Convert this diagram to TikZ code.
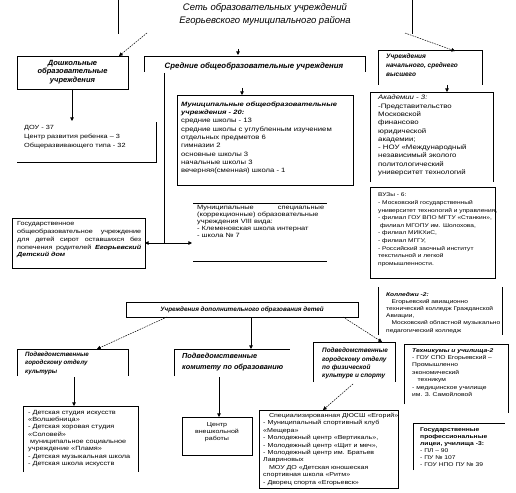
\documentclass[tikz,border=0pt]{standalone}
\usepackage{fontspec}
\setmainfont{Liberation Sans}
\newfontfamily\wide{Liberation Sans}[FakeStretch=1.22]
\usetikzlibrary{arrows.meta}
\begin{document}
\begin{tikzpicture}[x=1pt,y=-1pt,
  box/.style={line width=0.8pt},
  arr/.style={line width=0.8pt,-{Triangle[length=3.6pt,width=3.6pt]}},
  darr/.style={line width=0.5pt,dash pattern=on 1.6pt off 1pt,-{Triangle[length=3.6pt,width=3.6pt]}},
  body/.style={anchor=north west,inner sep=0pt,align=left,font=\wide\fontsize{6}{7.5}\selectfont},
  head/.style={anchor=north west,inner sep=0pt,align=left,font=\fontsize{7}{8.5}\selectfont\bfseries\itshape},
]
\useasboundingbox (0,0) rectangle (516,492);

% title
\node[inner sep=0pt,align=center,font=\fontsize{9.5}{13}\selectfont\itshape] (title) at (265,14.5)
  {Сеть образовательных учреждений\\Егорьевского муниципального района};
\coordinate (tL0) at (118,0); \coordinate (tL1) at (118,34);
\coordinate (tR0) at (412,0); \coordinate (tR1) at (412,34);
\draw[box] (tL0) -- (tL1); \draw[box] (tR0) -- (tR1);
\coordinate (d1s) at (147,33); \coordinate (d1e) at (119,56);
\coordinate (d2s) at (405,33); \coordinate (d2e) at (455,51);
\draw[darr] (d1s) -- (d1e);
\draw[darr] (d2s) -- (d2e);
\coordinate (s1s) at (238,49); \coordinate (s1e) at (238,55);
\draw[arr] (s1s) -- (s1e);

% preschool
\draw[box] (17,56) rectangle (128,89);
\node[head,anchor=center,align=center,font=\fontsize{7.5}{8.5}\selectfont\bfseries\itshape] (dosh) at (72.5,72)
  {Дошкольные\\образовательные\\учреждения};
\coordinate (a1s) at (72,89); \coordinate (a1e) at (72,121);
\draw[arr] (a1s) -- (a1e);
\draw[box] (17,162) -- (156,162) -- (156,122);
\node[body,font=\wide\fontsize{6}{9}\selectfont] (dou) at (24,125)
  {ДОУ - 37\\Центр развития ребенка – 3\\Общеразвивающего типа - 32};

% secondary
\draw[box] (144,72) -- (144,56) -- (365,56) -- (365,72);
\node[head,anchor=center,font=\fontsize{7.8}{9}\selectfont\bfseries\itshape] (sred) at (254,66)
  {Средние общеобразовательные учреждения};
\coordinate (v0) at (164,73); \coordinate (v1) at (164,243);
\coordinate (hL) at (145,243); \coordinate (hR) at (192,243);
\draw[box] (v0) -- (v1);
\draw[arr] (v1) -- (hL);
\draw[arr] (v1) -- (hR);
\coordinate (s2s) at (242,88); \coordinate (s2e) at (242,95);
\draw[arr] (s2s) -- (s2e);
\draw[box] (177,95) rectangle (353,185);
\node[body,font=\wide\fontsize{6.3}{8.3}\selectfont] (mun) at (181,101.5)
  {{\fontsize{6.2}{8.3}\selectfont\bfseries\itshape Муниципальные общеобразовательные}\\
   {\fontsize{6.2}{8.3}\selectfont\bfseries\itshape учреждения - 20:}\\
   средние школы - 13\\
   средние школы с углубленным изучением\\
   отдельных предметов 6\\
   гимназии 2\\
   основные школы 3\\
   начальные школы 3\\
   вечерняя(сменная) школа - 1};

% higher
\draw[box] (378,85) -- (378,50) -- (482,50) -- (482,85);
\node[head,font=\fontsize{6.5}{9}\selectfont\bfseries\itshape] (nach) at (386,54)
  {Учреждения\\начального, среднего\\высшего};
\coordinate (s3s) at (447,85); \coordinate (s3e) at (447,92);
\draw[arr] (s3s) -- (s3e);
\draw[box] (370,182) -- (370,92) -- (493,92) -- (493,182);
\node[body,font=\wide\fontsize{6.4}{8.3}\selectfont] (akad) at (378,95)
  {\textit{Академии - 3:}\\-Представительство\\Московской\\финансово\\юридической\\академии;\\- НОУ «Международный\\независимый эколого\\политологический\\университет технологий};
\draw[box] (370,187) rectangle (495,278);
\node[body,font=\wide\fontsize{5.4}{7.6}\selectfont] (vuz) at (378,193)
  {ВУЗы - 6:\\- Московский государственный\\университет технологий и управления,\\- филиал ГОУ ВПО МГТУ «Станкин»,\\\ филиал МГОПУ им. Шолохова,\\- филиал МИКХиС,\\- филиал МГГУ,\\- Российский заочный институт\\текстильной и легкой\\промышленности.};

% orphanage
\draw[box] (12,218) rectangle (145,268);
\node[body,font=\wide\fontsize{5.9}{7.8}\selectfont] (gos) at (17,221.5)
  {Государственное\\
   \makebox[124pt][s]{общеобразовательное учреждение}\\
   \makebox[124pt][s]{для детей сирот оставшихся без}\\
   \makebox[124pt][s]{попечения родителей \textbf{\textit{Егорьевский}}}\\
   \textbf{\textit{Детский дом}}};

% special
\draw[box] (193,203) -- (327,203);
\draw[box] (193,261) -- (327,261);
\node[body,font=\wide\fontsize{6.1}{7}\selectfont] (spec) at (197,205.5)
  {\makebox[127pt][s]{Муниципальные специальные}\\(коррекционные) образовательные\\учреждения VIII вида:\\- Клеменовская школа интернат\\- школа № 7};

% colleges
\draw[box] (378,287) -- (378,335);
\draw[box] (502,287) -- (502,335);
\node[body,font=\wide\fontsize{5.4}{7.2}\selectfont] (koll) at (386,292)
  {\textbf{\textit{Колледжи -2:}}\\\quad Егорьевский авиационно\\технический колледж Гражданской\\Авиации,\\\quad Московский областной музыкально\\педагогический колледж};

% additional education
\draw[box] (126,302) rectangle (358,317);
\node[head,anchor=center,font=\fontsize{6.3}{8}\selectfont\bfseries\itshape] (dop) at (242,309.5)
  {Учреждения дополнительного образования детей};
\coordinate (b1s) at (167,317); \coordinate (b1e) at (97,349);
\coordinate (b2s) at (251,317); \coordinate (b2e) at (251,349);
\coordinate (b3s) at (343,317); \coordinate (b3e) at (382,342);
\draw[darr] (b1s) -- (b1e);
\draw[arr] (b2s) -- (b2e);
\draw[darr] (b3s) -- (b3e);

% culture
\draw[box] (17,376) -- (17,349) -- (128,349) -- (128,376);
\node[head,font=\fontsize{6.2}{8.3}\selectfont\bfseries\itshape] (kult) at (25,352)
  {Подведомственные\\городскому отделу\\культуры};
\coordinate (c1s) at (74,377); \coordinate (c1e) at (74,406);
\draw[arr] (c1s) -- (c1e);
\draw[box] (23,472) -- (23,406) -- (138,406) -- (138,472);
\node[body,font=\wide\fontsize{6}{7.3}\selectfont] (kultd) at (28,410)
  {- Детская студия искусств\\«Волшебница»\\- Детская хоровая студия\\«Соловей»\\\ муниципальное социальное\\учреждение «Пламя»\\- Детская музыкальная школа\\- Детская школа искусств};

% committee
\draw[box] (174,376) -- (174,349) -- (290,349);
\node[head,font=\fontsize{7.3}{11}\selectfont\bfseries\itshape] (kom) at (182,353.5)
  {Подведомственные\\комитету по образованию};
\coordinate (c2s) at (219,377); \coordinate (c2e) at (219,417);
\draw[arr] (c2s) -- (c2e);
\draw[box] (182,417) rectangle (252,455);
\node[body,anchor=center,align=center,font=\wide\fontsize{5.8}{7.3}\selectfont] (centr) at (217,432)
  {Центр\\внешкольной\\работы};

% sport
\draw[box] (313,382) -- (313,342) -- (395,342) -- (395,382);
\node[head,font=\fontsize{6.4}{8.3}\selectfont\bfseries\itshape] (sport) at (322,348)
  {Подведомственные\\городскому отделу\\по физической\\культуре и спорту};
\coordinate (c3s) at (353,384); \coordinate (c3e) at (323,410);
\draw[darr] (c3s) -- (c3e);
\draw[box] (259,410) rectangle (398,488);
\node[body,font=\wide\fontsize{5.8}{7.4}\selectfont] (sportd) at (263,413)
  {\quad Специализированная ДЮСШ «Егорий»\\- Муниципальный спортивный клуб\\«Мещера»\\- Молодежный центр «Вертикаль»,\\- Молодежный центр «Щит и меч»,\\- Молодежный центр им. Братьев\\Лавриновых\\\quad МОУ ДО «Детская юношеская\\спортивная школа «Ритм»\\- Дворец спорта «Егорьевск»};

% technical schools
\draw[box] (404,404) -- (404,344) -- (508,344) -- (508,413);
\node[body,font=\wide\fontsize{5.5}{7.4}\selectfont] (tech) at (412,348)
  {\textbf{\textit{Техникумы и училища-2}}\\- ГОУ СПО Егорьевский –\\Промышленно\\экономический\\\quad техникум\\- медицинское училище\\им. З. Самойловой};

% lyceums
\draw[box] (413,470) -- (413,423) -- (505,423);
\node[body,font=\wide\fontsize{5.5}{7}\selectfont] (prof) at (420,428)
  {\textbf{Государственные}\\\textbf{профессиональные}\\\textbf{лицеи, училища -3:}\\- ПЛ – 90\\- ПУ № 107\\- ГОУ НПО ПУ № 39};
\end{tikzpicture}
\end{document}
